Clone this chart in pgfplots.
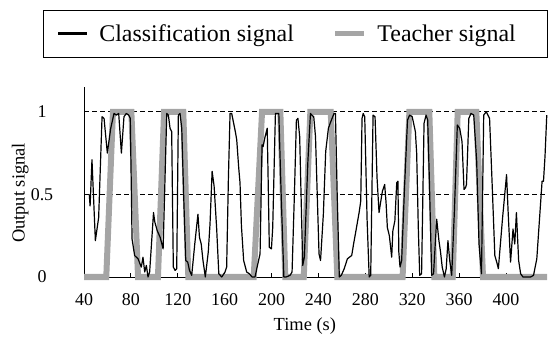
\documentclass[border=0pt]{standalone}
\usepackage{pgfplots}
\pgfplotsset{compat=1.18}
\usepackage{fontspec}
\setmainfont{Liberation Serif}
\definecolor{teach}{RGB}{165,165,165}
\begin{document}
\begin{tikzpicture}
\begin{axis}[
  at={(84bp,60bp)}, anchor=south west,
  scale only axis, width=463bp, height=190bp,
  xmin=40, xmax=435, ymin=0, ymax=1.15,
  xtick={40,80,...,400}, ytick={0.5,1},
  extra y ticks={0}, extra y tick style={grid=none},
  /pgf/number format/assume math mode=true,
  axis x line*=bottom, axis y line*=left,
  axis line style={-, black, line width=0.9bp},
  tick align=inside, major tick length=4bp,
  xtick style={black, line width=0.8bp},
  ytick style={draw=none},
  ymajorgrids, grid style={black, line width=0.8bp, dash pattern=on 4.5bp off 3.5bp},
  tick label style={font=\fontsize{18}{20}\selectfont},
  xticklabel style={anchor=base, yshift=-28bp},
  yticklabel style={anchor=center, inner sep=0pt, xshift=-42bp},
  yticklabels={0.5,1}, extra y tick labels={0},
  xlabel={Time (s)}, ylabel={Output signal},
  label style={font=\fontsize{18.5}{20}\selectfont},
  xlabel style={at={(axis description cs:0.477,-0.279)}, anchor=base},
  ylabel style={at={(axis description cs:-0.138,0.442)}, anchor=center, rotate=0},
  legend columns=2,
  legend style={at={(axis description cs:-0.0583,1.2816)}, anchor=west,
    draw=none, fill=none, inner sep=0pt,
    nodes={inner sep=0pt},
    font=\fontsize{24}{26}\selectfont,
    /tikz/every odd column/.append style={column sep=11bp},
    /tikz/every even column/.append style={column sep=39bp}},
  legend image code/.code={\draw[#1] (0bp,0bp) -- (29bp,0bp);},
  clip=false,
]
\addplot[teach, line width=6bp, forget plot] coordinates {
(40,0) (59,0) (64.7,1) (80.4,1) (86.1,0) (103.1,0) (108.3,1) (124.7,1) (129.0,0)
(184.8,0) (191.9,1) (207.5,1) (211.7,0) (227.5,0) (233.1,1) (250.5,1) (256.1,0)
(311.8,0) (317.6,1) (334.6,1) (338.9,0) (354.6,0) (358.8,1) (374.7,1) (380.4,0) (435,0)
};
\addplot[black, line width=1.2bp, line join=round, forget plot] table {
44.5 0.50
45.2 0.43
46.8 0.71
49.7 0.22
52.5 0.36
55.4 0.97
57.1 0.96
59.9 0.75
62.8 0.90
65.6 0.99
67.6 0.98
69.6 0.99
71.9 0.75
74.1 0.97
76.1 0.99
78.1 0.98
79.5 0.96
81.0 0.23
83.2 0.13
86.1 0.11
88.9 0.06
90.3 0.12
91.8 0.03
93.2 0.07
94.6 0.00
96.0 0.03
98.5 0.30
99.3 0.39
100.5 0.33
102.5 0.28
105.0 0.24
107.5 0.17
110.6 0.99
112.0 0.98
113.4 0.90
114.8 0.88
116.2 0.06
117.7 0.04
119.1 0.05
120.5 0.98
121.9 0.99
123.4 0.90
125.0 0.50
126.8 0.10
128.5 0.09
130.0 0.04
131.9 0.01
134.5 0.20
137.2 0.38
138.5 0.24
140.0 0.20
141.5 0.10
143.5 0.00
146.0 0.15
147.5 0.32
149.3 0.64
151.0 0.55
153.2 0.29
155.0 0.02
157.5 0.00
160.3 0.03
161.7 0.06
163.2 0.60
164.6 0.99
166.0 0.99
169.1 0.88
170.3 0.83
172.0 0.66
173.1 0.57
174.3 0.31
176.2 0.10
178.8 0.03
181.0 0.02
183.4 0.00
185.9 0.00
188.0 0.07
190.2 0.14
191.9 0.80
192.8 0.79
194.2 0.84
196.3 0.90
197.2 0.55
198.1 0.18
199.9 0.17
201.0 0.30
203.3 0.99
206.2 0.99
208.2 0.50
210.5 0.00
212.4 0.00
215.8 0.01
217.5 0.03
219.5 0.50
221.2 0.95
222.5 0.96
224.0 0.85
226.6 0.07
228.0 0.12
231.0 0.70
233.2 0.99
234.3 0.98
236.0 0.97
237.5 0.85
240.5 0.14
241.8 0.10
244.2 0.38
246.2 0.76
248.5 0.90
250.0 0.93
253.3 0.99
254.5 0.99
256.0 0.50
257.8 0.00
259.5 0.01
262.0 0.05
264.7 0.11
266.5 0.12
268.4 0.13
270.0 0.20
272.0 0.28
274.7 0.39
276.1 0.46
277.2 0.96
278.2 0.99
279.5 0.97
281.5 0.35
283.3 0.00
284.6 0.01
286.6 0.98
288.3 0.97
290.0 0.60
291.7 0.39
293.0 0.45
294.6 0.52
296.5 0.56
297.7 0.45
298.8 0.30
300.5 0.25
302.5 0.12
303.5 0.28
305.2 0.34
306.8 0.57
307.8 0.58
308.6 0.15
309.6 0.06
311.0 0.10
313.5 0.55
316.0 0.95
317.8 0.98
320.0 0.97
322.7 0.88
323.8 0.75
325.2 0.30
326.4 0.01
328.0 0.02
330.1 0.93
331.8 0.98
333.2 0.95
334.6 0.60
336.6 0.01
338.2 0.02
340.9 0.35
342.8 0.22
344.2 0.15
345.6 0.06
347.5 0.00
349.0 0.05
350.5 0.22
352.0 0.10
353.7 0.01
356.0 0.40
358.5 0.92
360.5 0.90
362.5 0.82
364.2 0.53
365.5 0.54
366.3 0.56
368.3 0.96
370.2 0.99
372.5 0.98
375.0 0.70
377.0 0.20
379.1 0.02
381.0 0.98
383.2 1.00
386.0 0.96
388.0 0.60
390.5 0.13
392.5 0.08
393.5 0.05
397.0 0.35
400.5 0.62
401.8 0.40
403.9 0.09
406.0 0.29
407.5 0.20
408.9 0.39
410.8 0.10
412.5 0.02
414.5 0.00
418.0 0.00
421.0 0.00
423.5 0.01
426.3 0.11
430.8 0.58
432.0 0.58
433.3 0.73
434.8 0.98
};
\addlegendimage{black, line width=2.2bp}
\addlegendentry{Classification signal}
\addlegendimage{teach, line width=4.5bp}
\addlegendentry{Teacher signal}
\end{axis}
\draw[black, line width=0.8bp] (43bp,280bp) rectangle (547bp,327bp);
\pgfresetboundingbox
\path[use as bounding box] (0,0) rectangle (548bp,337bp);
\end{tikzpicture}
\end{document}
